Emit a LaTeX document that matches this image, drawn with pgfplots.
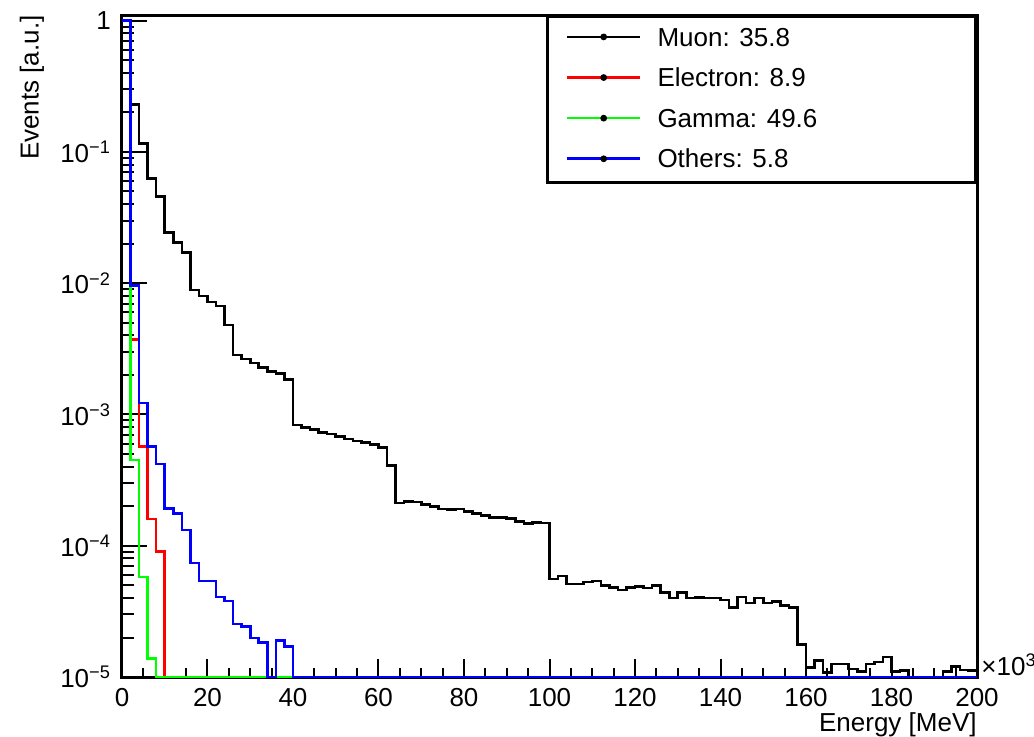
\documentclass[border=0pt]{standalone}
\usepackage{fontspec}
\setmainfont{Liberation Sans}
\usepackage{pgfplots}
\pgfplotsset{compat=1.18}
\definecolor{rgreen}{rgb}{0,1,0}
\definecolor{rred}{rgb}{1,0,0}
\definecolor{rblue}{rgb}{0,0,1}
\newcommand{\fs}{\fontsize{13pt}{15.6pt}\selectfont}
\begin{document}
\fs
\begin{tikzpicture}
\begin{axis}[
  ymode=log, scale only axis, width=427.5pt, height=331pt,
  xmin=0, xmax=200, ymin=1e-5, ymax=1.105,
  clip=false,
  axis line style={line width=1.5pt},
  tick style={black, line width=1pt},
  xtick style={/pgfplots/major tick length=9pt, /pgfplots/minor tick length=4.5pt},
  ytick style={/pgfplots/major tick length=12.5pt, /pgfplots/minor tick length=6pt},
  xtick pos=left, ytick pos=left, tick align=inside,
  xtick={0,20,...,200}, minor x tick num=3,
  ytick={1e-5,1e-4,1e-3,1e-2,1e-1,1},
  yticklabels={10\textsuperscript{−5},10\textsuperscript{−4},10\textsuperscript{−3},10\textsuperscript{−2},10\textsuperscript{−1},1},
  minor ytick={2e-5,3e-5,4e-5,5e-5,6e-5,7e-5,8e-5,9e-5,2e-4,3e-4,4e-4,5e-4,6e-4,7e-4,8e-4,9e-4,2e-3,3e-3,4e-3,5e-3,6e-3,7e-3,8e-3,9e-3,2e-2,3e-2,4e-2,5e-2,6e-2,7e-2,8e-2,9e-2,0.2,0.3,0.4,0.5,0.6,0.7,0.8,0.9},
  /pgf/number format/assume math mode=true,
  tick label style={font=\fs},
  xticklabel style={yshift=-1pt},
  yticklabel style={xshift=-1pt},
  legend style={at={(1,1)}, anchor=north east, draw=black, line width=1.5pt,
    inner xsep=9pt, inner ysep=5.4pt, row sep=8.95pt, column sep=8pt, font=\fs,
    nodes={inner sep=0pt, anchor=base west}},
  legend cell align=left,
  legend image code/.code={
    \path[draw=none, fill=none] (0pt,-0.5pt) rectangle (36.5pt,9.4pt);
    \draw[#1, line width=1.3pt] (0pt,4.6pt) -- (36.5pt,4.6pt);
    \fill[black] (18.25pt,4.6pt) circle (1pt);
  },
]
% Muon
\addplot[const plot, black, line width=1.3pt] coordinates {
(0,1) (2,0.231) (4,0.116) (6,0.063) (8,0.046) (10,0.0244) (12,0.0205) (14,0.0172)
(16,0.0089) (18,0.0080) (20,0.0072) (22,0.0067) (24,0.0048) (26,0.00284) (28,0.00264)
(30,0.00246) (32,0.00228) (34,0.00212) (36,0.00206) (38,0.00184) (40,0.00083) (42,0.00080)
(44,0.00077) (46,0.00073) (48,0.00071) (50,0.00068) (52,0.00065) (54,0.00063) (56,0.00061)
(58,0.00059) (60,0.00056) (62,0.00041) (64,0.000211) (66,0.000217) (68,0.000215) (70,0.000207)
(72,0.000199) (74,0.000191) (76,0.000188) (78,0.000190) (80,0.000182) (82,0.000177)
(84,0.000170) (86,0.000165) (88,0.000164) (90,0.000162) (92,0.000153) (94,0.000147)
(96,0.000150) (98,0.000149) (100,5.6e-5) (102,5.9e-5) (104,5.1e-5) (106,5.1e-5) (108,5.3e-5)
(110,5.4e-5) (112,5.0e-5) (114,4.8e-5) (116,4.6e-5) (118,4.8e-5) (120,4.9e-5) (122,4.75e-5)
(124,4.97e-5) (126,4.4e-5) (128,4.0e-5) (130,4.4e-5) (132,4.0e-5) (134,4.05e-5) (136,4.0e-5)
(138,3.99e-5) (140,3.87e-5) (142,3.4e-5) (144,4.06e-5) (146,3.66e-5) (148,4.0e-5) (150,3.66e-5)
(152,3.77e-5) (154,3.49e-5) (156,3.37e-5) (158,1.76e-5) (160,1.18e-5) (162,1.34e-5)
(164,1.08e-5) (166,1.26e-5) (168,1.26e-5) (170,1.15e-5) (172,1.1e-5) (174,1.26e-5)
(176,1.3e-5) (178,1.42e-5) (180,1.1e-5) (182,1.12e-5) (184,1e-5) (186,1e-5) (188,1e-5)
(190,1e-5) (192,1.1e-5) (194,1.2e-5) (196,1.13e-5) (198,1.12e-5) (200,1.12e-5)
};
\addlegendentry{\makebox[150pt][l]{Muon: 35.8}}
% Electron
\addplot[const plot, rred, line width=1.3pt] coordinates {
(0,1) (2,3.74e-3) (4,5.7e-4) (6,1.6e-4) (8,9.0e-5) (10,1e-5) (200,1e-5)
};
\addlegendentry{Electron: 8.9}
% Gamma
\addplot[const plot, rgreen, line width=1.3pt] coordinates {
(0,1) (2,4.5e-4) (4,5.8e-5) (6,1.39e-5) (8,1e-5) (200,1e-5)
};
\addlegendentry{Gamma: 49.6}
% Others
\addplot[const plot, rblue, line width=1.3pt] coordinates {
(0,1) (2,9.6e-3) (4,1.22e-3) (6,5.7e-4) (8,4.2e-4) (10,1.93e-4) (12,1.77e-4) (14,1.32e-4)
(16,7.4e-5) (18,5.4e-5) (20,5.4e-5) (22,4.06e-5) (24,3.8e-5) (26,2.54e-5) (28,2.42e-5)
(30,1.98e-5) (32,1.84e-5) (34,1e-5) (36,1.9e-5) (38,1.7e-5) (40,1e-5) (200,1e-5)
};
\addlegendentry{Others: 5.8}
\node[anchor=base west, font=\fs, inner sep=0pt] at (rel axis cs:1,0) [xshift=2pt, yshift=1pt] {×10\textsuperscript{3}};
\node[anchor=base east, font=\fs, inner sep=0pt] at (rel axis cs:1,0) [yshift=-27.3pt] {Energy [MeV]};
\node[anchor=east, rotate=90, font=\fs, inner sep=0pt] at ([xshift=-45pt]rel axis cs:0,1) {Events [a.u.]};
\end{axis}
\pgfresetboundingbox
\path[use as bounding box] (-61pt,-29.5pt) rectangle (456pt,338.5pt);
\end{tikzpicture}
\end{document}
